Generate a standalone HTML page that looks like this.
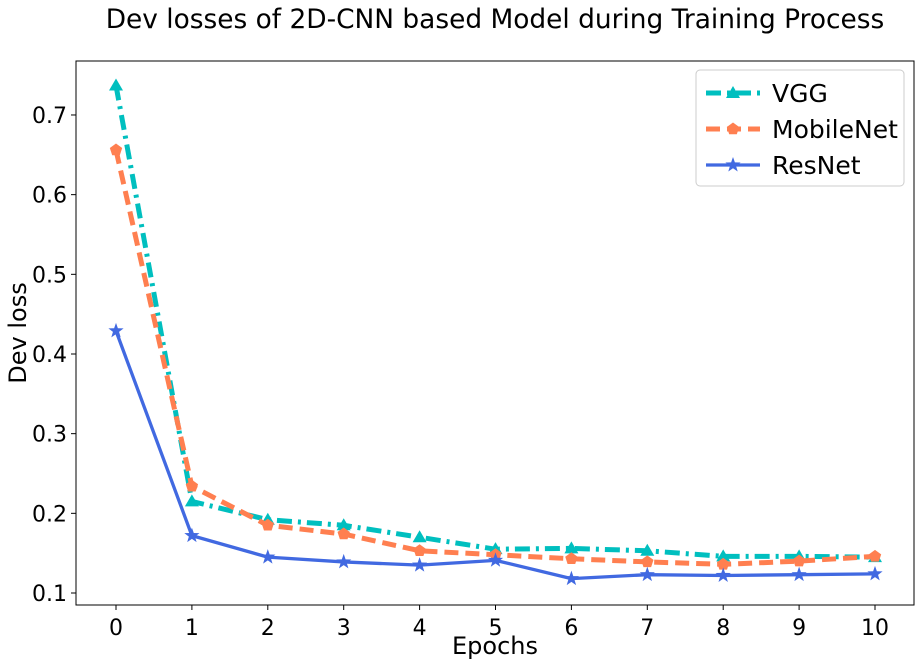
<!DOCTYPE html>
<html><head><meta charset="utf-8"><style>
body{margin:0;background:#fff;}
svg text{font-family:"DejaVu Sans","Liberation Sans",sans-serif;fill:#000;}
</style></head><body>
<svg id="chart" width="921" height="666" xmlns="http://www.w3.org/2000/svg"></svg>
<script>
const epochs=[0,1,2,3,4,5,6,7,8,9,10];
const vgg=[0.737,0.215,0.192,0.185,0.170,0.155,0.156,0.153,0.146,0.146,0.145];
const mobilenet=[0.656,0.234,0.185,0.174,0.153,0.148,0.143,0.139,0.136,0.140,0.146];
const resnet=[0.429,0.172,0.145,0.139,0.135,0.141,0.118,0.123,0.122,0.123,0.124];
const yTicks=[0.1,0.2,0.3,0.4,0.5,0.6,0.7];
const seriesNames=["VGG","MobileNet","ResNet"];

const svg=document.getElementById('chart');
const NS='http://www.w3.org/2000/svg';
const L=76,R=914,T=61,B=605;
const xs=v=>116+v*75.9;
const ys=v=>593-(v-0.1)*796.7;
function el(tag,attrs,parent){const e=document.createElementNS(NS,tag);for(const k in attrs)e.setAttribute(k,attrs[k]);(parent||svg).appendChild(e);return e;}

const title=el('text',{x:495,y:28,'text-anchor':'middle','font-size':26.4});


title.textContent='Dev losses of 2D-CNN based Model during Training Process';

const frame=el('rect',{x:L,y:T,width:R-L,height:B-T,fill:'none',stroke:'#000','stroke-width':1});



epochs.forEach(e=>{
  const x=xs(e);
  el('line',{x1:x,y1:B,x2:x,y2:B+5,stroke:'#000'});
  const t=el('text',{x:x,y:B+30,'text-anchor':'middle','font-size':22});
  
  
  t.textContent=e;
});
yTicks.forEach(v=>{
  const y=ys(v);
  el('line',{x1:L-5,y1:y,x2:L,y2:y,stroke:'#000'});
  const t=el('text',{x:L-9,y:y+8,'text-anchor':'end','font-size':22});
  
  
  t.textContent=v.toFixed(1);
});
const xt=el('text',{x:495,y:654,'text-anchor':'middle','font-size':24});


xt.textContent='Epochs';
const yt=el('text',{x:0,y:0,'text-anchor':'middle','font-size':24,transform:'translate(26,333) rotate(-90)'});


yt.textContent='Dev loss';

function marker(type,x,y,color,g){
  if(type==='tri'){el('polygon',{points:`${x},${y-7} ${x-7},${y+5} ${x+7},${y+5}`,fill:color},g);}
  else if(type==='pent'){let p=[];for(let i=0;i<5;i++){const a=-Math.PI/2+i*2*Math.PI/5;p.push((x+6.5*Math.cos(a))+','+(y+6.5*Math.sin(a)));}el('polygon',{points:p.join(' '),fill:color},g);}
  else {let p=[];for(let i=0;i<10;i++){const a=-Math.PI/2+i*Math.PI/5;const r=i%2?3.2:8;p.push((x+r*Math.cos(a))+','+(y+r*Math.sin(a)));}el('polygon',{points:p.join(' '),fill:color},g);}
}
const defs=[
 {name:'vgg',data:vgg,color:'#00bfbf',dash:'15,6,3,6',w:5,m:'tri'},
 {name:'mobilenet',data:mobilenet,color:'#ff7f50',dash:'14,7',w:5,m:'pent'},
 {name:'resnet',data:resnet,color:'#4169e1',dash:'',w:3.3,m:'star'}
];
defs.forEach(s=>{
  const g=el('g',{});
  
  
  const pts=s.data.map((v,i)=>xs(epochs[i])+','+ys(v)).join(' ');
  const a={points:pts,fill:'none',stroke:s.color,'stroke-width':s.w,'stroke-linejoin':'round'};
  if(s.dash)a['stroke-dasharray']=s.dash;
  el('polyline',a,g);
  s.data.forEach((v,i)=>marker(s.m,xs(epochs[i]),ys(v),s.color,g));
});

const lg=el('g',{});


el('rect',{x:696,y:70,width:208,height:116,rx:4,fill:'#fff',stroke:'#ccc'},lg);
defs.forEach((s,i)=>{
  const y=93+i*36;
  const a={x1:706,y1:y,x2:760,y2:y,stroke:s.color,'stroke-width':s.w};
  if(s.dash)a['stroke-dasharray']=s.dash;
  el('line',a,lg);
  marker(s.m,733,y,s.color,lg);
  const t=el('text',{x:772,y:y+9,'font-size':25},lg);
  
  
  t.textContent=seriesNames[i];
});
</script>
</body></html>
